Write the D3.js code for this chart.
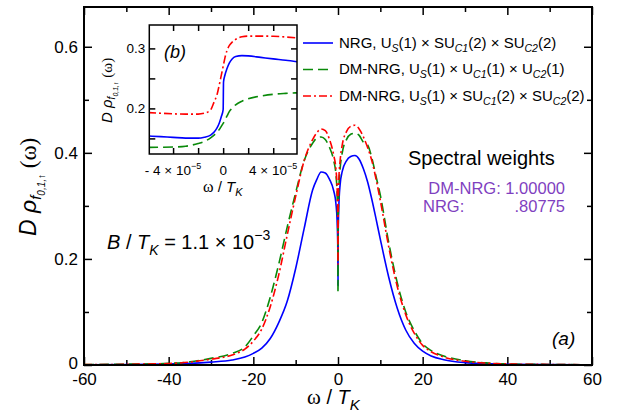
<!DOCTYPE html>
<html>
<head>
<meta charset="utf-8">
<script src="https://cdn.jsdelivr.net/npm/d3@7"></script>
<style>
body { margin:0; background:#fff; }
text { font-family: "Liberation Sans", Arial, sans-serif; fill:#000; }
</style>
</head>
<body>
<div id="chart"></div>
<script>
// main panel (a)
var omega = [-60,-50,-40,-35,-30,-25,-22,-20,-18,-16,-14,-12,-10,-8,-6,-5,-4,-3,-2,-1,-0.5,-0.2,-0.05,0,
             0.05,0.2,0.5,1,2,3,4,5,6,7,8,9,10,12,14,16,18,20,22,25,30,35,40,50,60];
var nrg   = [0.0005,0.001,0.002,0.003,0.0055,0.0095,0.015,0.022,0.032,0.05,0.08,0.12,0.182,0.257,0.33,0.35,0.364,0.362,0.35,0.328,0.305,0.27,0.22,0.15,
             0.25,0.30,0.34,0.365,0.385,0.393,0.395,0.388,0.37,0.345,0.312,0.275,0.237,0.165,0.107,0.066,0.041,0.026,0.017,0.010,0.0045,0.0025,0.0015,0.0008,0.0004];
var dmU1  = [0.0008,0.0015,0.003,0.006,0.0125,0.022,0.034,0.055,0.08,0.128,0.19,0.26,0.325,0.385,0.418,0.428,0.43,0.425,0.41,0.385,0.36,0.32,0.25,0.136,
             0.26,0.33,0.37,0.40,0.425,0.435,0.437,0.433,0.42,0.415,0.39,0.355,0.32,0.23,0.155,0.10,0.065,0.04,0.027,0.017,0.008,0.004,0.002,0.001,0.0005];
var dmSU2 = [0.0007,0.0013,0.0028,0.0055,0.011,0.019,0.03,0.045,0.068,0.11,0.17,0.245,0.318,0.385,0.425,0.438,0.445,0.442,0.425,0.395,0.37,0.33,0.28,0.19,
             0.30,0.35,0.385,0.415,0.44,0.45,0.452,0.445,0.43,0.41,0.385,0.35,0.31,0.222,0.148,0.095,0.06,0.037,0.025,0.015,0.007,0.0035,0.002,0.001,0.0005];

var xTicks = [-60,-40,-20,0,20,40,60];
var xMinor = [-50,-30,-10,10,30,50];
var yTicks = [0,0.2,0.4,0.6];
var yTickLabels = ["0","0.2","0.4","0.6"];
var yMinor = [0.1,0.3,0.5];

// inset (b)
var insetOmega = [-6e-5,-5e-5,-4e-5,-3e-5,-2e-5,-1.5e-5,-1e-5,-0.7e-5,-0.5e-5,-0.3e-5,-0.15e-5,0,
                  0.03e-5,0.15e-5,0.3e-5,0.5e-5,0.7e-5,1e-5,1.5e-5,2e-5,3e-5,4e-5,5e-5,6e-5];
var insetNrg   = [0.154,0.153,0.1517,0.1505,0.1505,0.152,0.1555,0.161,0.167,0.176,0.186,0.198,
                  0.244,0.256,0.266,0.276,0.282,0.2865,0.288,0.2875,0.285,0.2825,0.2803,0.2775];
var insetDmU1  = [0.135,0.1352,0.1356,0.137,0.1415,0.145,0.151,0.156,0.16,0.165,0.17,0.175,
                  0.176,0.181,0.187,0.195,0.2,0.206,0.212,0.216,0.2205,0.2235,0.225,0.226];
var insetDmSU2 = [0.193,0.192,0.191,0.1905,0.1905,0.192,0.1975,0.212,0.222,0.24,0.255,0.27,
                  0.273,0.285,0.296,0.305,0.31,0.315,0.3195,0.3205,0.3205,0.3203,0.319,0.3175];
var insetXTicks = [-4e-5,0,4e-5];
var insetXMinor = [-2e-5,2e-5];
var insetYTicks = [0.2,0.3];
var insetYMinor = [0.15,0.25];

var series = [
  {name:"nrg",  main:nrg,   inset:insetNrg,   color:"#0000ff", dash:null,      label:[["NRG, U",""],["S","sub"],["(1) × SU",""],["C1","sub"],["(2) × SU",""],["C2","sub"],["(2)",""]]},
  {name:"dmU1", main:dmU1,  inset:insetDmU1,  color:"#0a8a0a", dash:"10,5",    label:[["DM-NRG, U",""],["S","sub"],["(1) × U",""],["C1","sub"],["(1) × U",""],["C2","sub"],["(1)",""]]},
  {name:"dmSU2",main:dmSU2, inset:insetDmSU2, color:"#ff0000", dash:"8,3,2,3", label:[["DM-NRG, U",""],["S","sub"],["(1) × SU",""],["C1","sub"],["(2) × SU",""],["C2","sub"],["(2)",""]]}
];

var W = 621, H = 420;
var svg = d3.select("#chart").append("svg").attr("width", W).attr("height", H);

var plot = {left:84, right:592, top:7, bottom:365};
var x = d3.scaleLinear().domain([-60,60]).range([plot.left, plot.right]);
var y = d3.scaleLinear().domain([0,0.675]).range([plot.bottom, plot.top]);

svg.append("clipPath").attr("id","mainClip").append("rect")
  .attr("x", plot.left).attr("y", plot.top)
  .attr("width", plot.right-plot.left).attr("height", plot.bottom-plot.top);

function ticks(g, axis, values, size, fmt, pad, fontSize){
  g.call(axis.tickValues(values).tickSizeInner(-size).tickSizeOuter(0).tickPadding(pad).tickFormat(fmt));
  g.select(".domain").remove();
  g.attr("font-size", fontSize || 10).attr("font-family", null);
  g.selectAll(".tick line").attr("stroke","#000").attr("stroke-width",1.5);
  g.selectAll(".tick text").attr("fill","#000");
}

var blank = function(){ return ""; };

// bottom / top
ticks(svg.append("g").attr("transform","translate(0,"+plot.bottom+")"),
      d3.axisBottom(x), xTicks, 8, function(d){ return String(d); }, 8, 17);
ticks(svg.append("g").attr("transform","translate(0,"+plot.bottom+")"), d3.axisBottom(x), xMinor, 5, blank, 0);
ticks(svg.append("g").attr("transform","translate(0,"+plot.top+")"), d3.axisTop(x), xTicks, 8, blank, 0);
ticks(svg.append("g").attr("transform","translate(0,"+plot.top+")"), d3.axisTop(x), xMinor, 5, blank, 0);
// left / right
var yAxisG = svg.append("g").attr("transform","translate("+plot.left+",0)");
ticks(yAxisG, d3.axisLeft(y), yTicks, 8, function(d,i){ return yTickLabels[i]; }, 6, 17);
yAxisG.selectAll(".tick text").filter(function(d){ return d === 0; }).attr("dy","0.2em");
ticks(svg.append("g").attr("transform","translate("+plot.left+",0)"), d3.axisLeft(y), yMinor, 5, blank, 0);
ticks(svg.append("g").attr("transform","translate("+plot.right+",0)"), d3.axisRight(y), yTicks, 8, blank, 0);
ticks(svg.append("g").attr("transform","translate("+plot.right+",0)"), d3.axisRight(y), yMinor, 5, blank, 0);

var mainLine = d3.line().x(function(d){ return x(d[0]); }).y(function(d){ return y(d[1]); }).curve(d3.curveMonotoneX);

series.forEach(function(s){
  svg.append("path")
    .attr("clip-path","url(#mainClip)")
    .attr("d", mainLine(omega.map(function(w,i){ return [w, s.main[i]]; })))
    .attr("fill","none")
    .attr("stroke", s.color)
    .attr("stroke-width", 1.6)
    .attr("stroke-dasharray", s.dash);
});

svg.append("rect")
  .attr("x", plot.left).attr("y", plot.top)
  .attr("width", plot.right-plot.left).attr("height", plot.bottom-plot.top)
  .attr("fill","none").attr("stroke","#000").attr("stroke-width",2);

// legend
series.forEach(function(s,i){
  var ly = 43 + i*26.5;
  svg.append("line").attr("x1",303).attr("x2",333).attr("y1",ly).attr("y2",ly)
    .attr("stroke", s.color).attr("stroke-width",1.6).attr("stroke-dasharray", s.dash);
  var t = svg.append("text").attr("x",339).attr("y",ly+4.5).attr("font-size",15);
  s.label.forEach(function(p, j){
    var ts = t.append("tspan").text(p[0]);
    if (p[1] === "sub") ts.attr("font-size",10.5).attr("font-style","italic").attr("dy",4);
    else if (j > 0) ts.attr("dy",-4);
  });
});

// annotations
svg.append("text").attr("x",408).attr("y",165).attr("font-size",20).text("Spectral weights");
svg.append("text").attr("x",565).attr("y",193.5).attr("font-size",16.5).attr("text-anchor","end")
  .style("fill","#7f3fbf").text("DM-NRG: 1.00000");
svg.append("text").attr("x",423).attr("y",212).attr("font-size",16.5)
  .style("fill","#7f3fbf").text("NRG:");
svg.append("text").attr("x",565).attr("y",212).attr("font-size",16.5).attr("text-anchor","end")
  .style("fill","#7f3fbf").text(".80775");

var bt = svg.append("text").attr("x",107).attr("y",249).attr("font-size",20);
bt.append("tspan").attr("font-style","italic").text("B");
bt.append("tspan").text(" / ");
bt.append("tspan").attr("font-style","italic").text("T");
bt.append("tspan").attr("font-style","italic").attr("font-size",14).attr("dy",6).text("K");
bt.append("tspan").attr("dy",-6).text(" = 1.1 × 10");
bt.append("tspan").attr("font-size",14).attr("dy",-9).text("−3");

svg.append("text").attr("x",552).attr("y",345).attr("font-size",19).attr("font-style","italic").text("(a)");

// axis titles
var xt = svg.append("text").attr("x",307).attr("y",404).attr("font-size",20);
xt.append("tspan").attr("font-family","Liberation Serif, serif").attr("font-size",21).text("ω");
xt.append("tspan").text(" / ");
xt.append("tspan").attr("font-style","italic").text("T");
xt.append("tspan").attr("font-style","italic").attr("font-size",15).attr("dy",6).text("K");

var yt = svg.append("text").attr("transform","translate(36,236) rotate(-90)").attr("font-size",23);
yt.append("tspan").attr("font-style","italic").text("D");
yt.append("tspan").attr("font-style","italic").text(" ρ");
yt.append("tspan").attr("font-style","italic").attr("font-size",15).attr("dy",5).text("f");
yt.append("tspan").attr("font-style","italic").attr("font-size",10).attr("dy",4).text("0,1,↑");
yt.append("tspan").attr("dy",-9).attr("font-family","Liberation Serif, serif").text("  (ω)");

// inset
var ib = {left:149.3, right:297, top:25, bottom:154};
var ix = d3.scaleLinear().domain([-5.9e-5,5.9e-5]).range([ib.left, ib.right]);
var iy = d3.scaleLinear().domain([0.124,0.339]).range([ib.bottom, ib.top]);

svg.append("rect").attr("x",ib.left).attr("y",ib.top)
  .attr("width",ib.right-ib.left).attr("height",ib.bottom-ib.top).attr("fill","#fff");
svg.append("clipPath").attr("id","insetClip").append("rect")
  .attr("x",ib.left).attr("y",ib.top).attr("width",ib.right-ib.left).attr("height",ib.bottom-ib.top);

var insetLine = d3.line().x(function(d){ return ix(d[0]); }).y(function(d){ return iy(d[1]); }).curve(d3.curveMonotoneX);
series.forEach(function(s){
  svg.append("path")
    .attr("clip-path","url(#insetClip)")
    .attr("d", insetLine(insetOmega.map(function(w,i){ return [w, s.inset[i]]; })))
    .attr("fill","none")
    .attr("stroke", s.color)
    .attr("stroke-width", 1.6)
    .attr("stroke-dasharray", s.dash);
});

ticks(svg.append("g").attr("transform","translate(0,"+ib.bottom+")"), d3.axisBottom(ix), insetXTicks.concat(insetXMinor), 6, blank, 0);
ticks(svg.append("g").attr("transform","translate(0,"+ib.top+")"), d3.axisTop(ix), insetXTicks.concat(insetXMinor), 6, blank, 0);
ticks(svg.append("g").attr("transform","translate("+ib.left+",0)"),
      d3.axisLeft(iy), insetYTicks, 6, function(d){ return d.toFixed(1); }, 4, 13.5);
ticks(svg.append("g").attr("transform","translate("+ib.left+",0)"), d3.axisLeft(iy), insetYMinor, 6, blank, 0);
ticks(svg.append("g").attr("transform","translate("+ib.right+",0)"), d3.axisRight(iy), insetYTicks.concat(insetYMinor), 6, blank, 0);

insetXTicks.forEach(function(v){
  var t = svg.append("text").attr("x", ix(v)).attr("y", 175).attr("font-size",13.5).attr("text-anchor","middle");
  if (v === 0) { t.text("0"); return; }
  var m = v / 1e-5;
  t.append("tspan").text((m < 0 ? "- " : "") + Math.abs(m) + " × 10");
  t.append("tspan").attr("font-size",9).attr("dy",-6).text("−5");
});

svg.append("rect").attr("x",ib.left).attr("y",ib.top)
  .attr("width",ib.right-ib.left).attr("height",ib.bottom-ib.top)
  .attr("fill","none").attr("stroke","#000").attr("stroke-width",1.5);

svg.append("text").attr("x",164).attr("y",58).attr("font-size",18).attr("font-style","italic").text("(b)");

var ixt = svg.append("text").attr("x",203).attr("y",192).attr("font-size",15);
ixt.append("tspan").attr("font-family","Liberation Serif, serif").attr("font-size",16).text("ω");
ixt.append("tspan").text(" / ");
ixt.append("tspan").attr("font-style","italic").text("T");
ixt.append("tspan").attr("font-style","italic").attr("font-size",11).attr("dy",4).text("K");

var iyt = svg.append("text").attr("transform","translate(112,123) rotate(-90)").attr("font-size",15);
iyt.append("tspan").attr("font-style","italic").text("D");
iyt.append("tspan").attr("font-style","italic").text(" ρ");
iyt.append("tspan").attr("font-style","italic").attr("font-size",10).attr("dy",3).text("f");
iyt.append("tspan").attr("font-style","italic").attr("font-size",7).attr("dy",3).text("0,1,↑");
iyt.append("tspan").attr("dy",-6).attr("font-family","Liberation Serif, serif").text("  (ω)");
</script>
</body>
</html>
